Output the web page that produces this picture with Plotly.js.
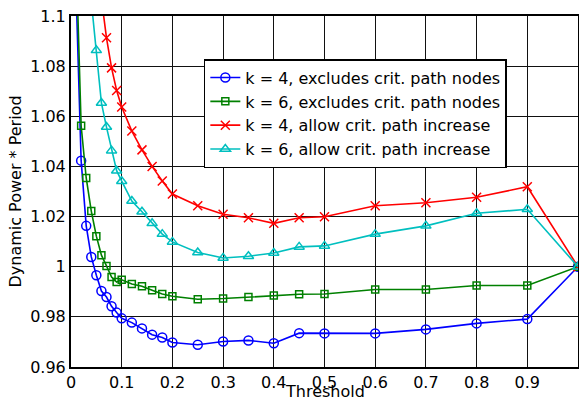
<!DOCTYPE html>
<html>
<head>
<meta charset="utf-8">
<script src="https://cdn.plot.ly/plotly-3.0.1.min.js"></script>
<style>html,body{margin:0;padding:0;background:#fff;}#chart{width:579px;height:400px;}</style>
</head>
<body>
<div id="chart"></div>
<script>
// Threshold values (x) per series
const xExcl = [0.01,0.02,0.03,0.04,0.05,0.06,0.07,0.08,0.09,0.10,0.12,0.14,0.16,0.18,0.20,0.25,0.30,0.35,0.40,0.45,0.5,0.6,0.7,0.8,0.9,1.0];
const k4Excl = [1.11,1.0423,1.0163,1.0039,0.9966,0.9903,0.9879,0.9842,0.9817,0.9794,0.9777,0.9754,0.9729,0.9718,0.9698,0.9689,0.9702,0.9706,0.9695,0.9735,0.9734,0.9734,0.9750,0.9774,0.9791,1.0];
const k6Excl = [1.125,1.0562,1.0354,1.0222,1.0122,1.0046,1.0003,0.9959,0.9939,0.9948,0.9931,0.9922,0.9906,0.9891,0.9882,0.9870,0.9873,0.9879,0.9885,0.9890,0.9891,0.9909,0.9909,0.9925,0.9925,1.0];
const xK4Allow = [0.06,0.07,0.08,0.09,0.10,0.12,0.14,0.16,0.18,0.20,0.25,0.30,0.35,0.40,0.45,0.5,0.6,0.7,0.8,0.9,1.0];
const k4Allow = [1.107,1.0913,1.0793,1.0703,1.0637,1.0541,1.0466,1.0400,1.0342,1.0290,1.0243,1.0209,1.0195,1.0173,1.0195,1.0199,1.0243,1.0255,1.0277,1.0319,1.0];
const xK6Allow = [0.04,0.05,0.06,0.07,0.08,0.09,0.10,0.12,0.14,0.16,0.18,0.20,0.25,0.30,0.35,0.40,0.45,0.5,0.6,0.7,0.8,0.9,1.0];
const k6Allow = [1.106,1.0863,1.0653,1.0557,1.0463,1.0383,1.0341,1.0262,1.0219,1.0173,1.0130,1.0099,1.0057,1.0035,1.0042,1.0055,1.0079,1.0083,1.0130,1.0163,1.0213,1.0229,1.0];

const names = ['k = 4, excludes crit. path nodes','k = 6, excludes crit. path nodes','k = 4, allow crit. path increase','k = 6, allow crit. path increase'];
const xTicks = [0,0.1,0.2,0.3,0.4,0.5,0.6,0.7,0.8,0.9,1];
const xTickText = ['0','0.1','0.2','0.3','0.4','0.5','0.6','0.7','0.8','0.9','1'];
const yTicks = [0.96,0.98,1,1.02,1.04,1.06,1.08,1.1];
const yTickText = ['0.96','0.98','1','1.02','1.04','1.06','1.08','1.1'];
const xTitle = 'Threshold';
const yTitle = 'Dynamic Power * Period';

function tr(x, y, name, color, symbol, size) {
  return {
    x: x, y: y, name: name, type: 'scatter', mode: 'lines+markers',
    line: {color: color, width: 1.6},
    marker: {symbol: symbol, size: size, color: color, line: {color: color, width: 1.5}}
  };
}

const data = [
  tr(xExcl, k4Excl, names[0], '#0000ff', 'circle-open', 9),
  tr(xExcl, k6Excl, names[1], '#008000', 'square-open', 7),
  tr(xK4Allow, k4Allow, names[2], '#ff0000', 'x-thin-open', 9),
  tr(xK6Allow, k6Allow, names[3], '#00bfbf', 'triangle-up-open', 9)
];

const font = {family: '"DejaVu Sans", "Liberation Sans", Arial, sans-serif', size: 16, color: '#000'};

const layout = {
  width: 579, height: 400,
  margin: {l: 71, r: 1, t: 16, b: 33, pad: 0},
  paper_bgcolor: '#fff', plot_bgcolor: '#fff',
  font: font,
  showlegend: true,
  legend: {
    x: 0.262, y: 0.877, xanchor: 'left', yanchor: 'top',
    bgcolor: '#fff', bordercolor: '#000', borderwidth: 1.5,
    font: font, tracegroupgap: 0, itemwidth: 30
  },
  annotations: [{
    text: xTitle, xref: 'paper', yref: 'paper', x: 0.5, y: 0,
    xanchor: 'center', yanchor: 'top', yshift: -13, showarrow: false, font: font
  }],
  xaxis: {
    range: [0, 1], tickvals: xTicks, ticktext: xTickText,
    showgrid: true, gridcolor: '#111', gridwidth: 1,
    showline: true, linecolor: '#000', linewidth: 2, mirror: true,
    ticks: '', zeroline: false, tickfont: font
  },
  yaxis: {
    range: [0.96, 1.1], tickvals: yTicks, ticktext: yTickText,
    showgrid: true, gridcolor: '#111', gridwidth: 1,
    showline: true, linecolor: '#000', linewidth: 2, mirror: true,
    ticks: '', zeroline: false, tickfont: font,
    title: {text: yTitle, font: font, standoff: 5}
  }
};

Plotly.newPlot('chart', data, layout, {staticPlot: true, displayModeBar: false});
</script>
</body>
</html>
